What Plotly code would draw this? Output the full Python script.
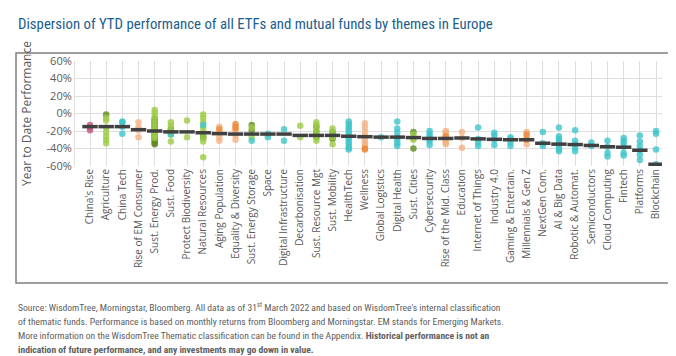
import plotly.graph_objects as go

categories = ["China's Rise", "Agriculture", "China Tech", "Rise of EM Consumer", "Sust. Energy Prod.",
              "Sust. Food", "Protect Biodiversity", "Natural Resources", "Aging Population",
              "Equality & Diversity", "Sust. Energy Storage", "Space", "Digital Infrastructure",
              "Decarbonisation", "Sust. Resource Mgt", "Sust. Mobility", "HealthTech", "Wellness",
              "Global Logistics", "Digital Health", "Sust. Cities", "Cybersecurity",
              "Rise of the Mid. Class", "Education", "Internet of Things", "Industry 4.0",
              "Gaming & Entertain.", "Millennials & Gen Z", "NextGen Com.", "AI & Big Data",
              "Robotic & Automat.", "Semiconductors", "Cloud Computing", "Fintech", "Platforms",
              "Blockchain"]

median_values = [-15, -15, -15, -18.5, -20, -21, -21, -22, -23, -23.5, -23.5, -23.5, -23.5,
                 -25, -25, -25, -26, -26.5, -27, -27, -27.5, -28.5, -28.5, -28, -29, -29.5,
                 -30, -30, -34, -35, -35.5, -36.5, -38, -38.5, -42, -58]

pink_funds = {"China's Rise": [-13, -16, -19]}

dark_green_funds = {
    "Agriculture": [-1],
    "Sust. Energy Prod.": [-6, -8, -10, -12, -14, -16, -18, -20, -22, -24, -26, -28, -30, -32, -34, -35],
    "Sust. Food": [-18],
    "Natural Resources": [-25, -28],
    "Sust. Energy Storage": [-13, -19],
    "Sust. Resource Mgt": [-15, -21, -27],
    "Sust. Mobility": [-21, -25, -29],
    "Sust. Cities": [-21, -40],
}

light_green_funds = {
    "Agriculture": [-5, -8, -16, -21, -26, -30, -34],
    "Sust. Energy Prod.": [4, 1, -3, -7, -11, -15, -19, -22, -25, -28],
    "Sust. Food": [-10, -14, -19, -24, -32],
    "Protect Biodiversity": [-8, -27],
    "Natural Resources": [-1, -5, -10, -16, -21, -27, -32, -50],
    "Sust. Energy Storage": [-16, -27],
    "Decarbonisation": [-14, -27],
    "Sust. Resource Mgt": [-10, -13, -19, -25, -31],
    "Sust. Mobility": [-17, -23, -27, -35],
    "Sust. Cities": [-24, -28, -30],
}

teal_funds = {
    "China Tech": [-9, -10, -15, -23],
    "Sust. Food": [-24],
    "Natural Resources": [-13],
    "Sust. Energy Storage": [-31],
    "Space": [-23, -27],
    "Digital Infrastructure": [-18, -31],
    "HealthTech": [-9, -12, -15, -18, -21, -24, -27, -30, -33, -36, -39, -41],
    "Global Logistics": [-27],
    "Digital Health": [-9, -17, -22, -27, -30, -34, -37],
    "Cybersecurity": [-20, -23, -26, -29, -32, -36],
    "Internet of Things": [-16, -29, -33, -37],
    "Industry 4.0": [-22, -25, -30, -36],
    "Gaming & Entertain.": [-27, -29, -33, -37],
    "NextGen Com.": [-21, -34, -37],
    "AI & Big Data": [-16, -26, -29, -32, -35, -38, -41, -43],
    "Robotic & Automat.": [-19, -31, -35, -39, -43],
    "Semiconductors": [-33, -37],
    "Cloud Computing": [-31, -38, -45, -49],
    "Fintech": [-28, -31, -34, -38, -45, -48],
    "Platforms": [-25, -32, -37, -42, -47, -53],
    "Blockchain": [-20, -23, -41, -58],
}

light_orange_funds = {
    "Rise of EM Consumer": [-10, -16, -19, -27],
    "Aging Population": [-15, -21, -27, -31],
    "Equality & Diversity": [-20, -25, -30],
    "Wellness": [-11, -16, -21, -26, -30, -34, -37],
    "Rise of the Mid. Class": [-20, -22, -25, -28, -31, -33, -35],
    "Education": [-21, -28, -39],
    "Millennials & Gen Z": [-21, -27, -35],
}

orange_funds = {
    "Aging Population": [-18],
    "Equality & Diversity": [-12, -15, -17],
    "Wellness": [-40, -41],
    "Rise of the Mid. Class": [-26],
    "Millennials & Gen Z": [-24, -30],
}

y_tick_values = [-60, -40, -20, 0, 20, 40, 60]
y_tick_labels = ["-60%", "-40%", "-20%", "0%", "20%", "40%", "60%"]

title_text = "Dispersion of YTD performance of all ETFs and mutual funds by themes in Europe"
y_title = "Year to Date Performance"
footer_lines = [
    "Source: WisdomTree, Morningstar, Bloomberg. All data as of 31<sup>st</sup> March 2022 and based on WisdomTree's internal classification",
    "of thematic funds. Performance is based on monthly returns from Bloomberg and Morningstar. EM stands for Emerging Markets.",
    "More information on the WisdomTree Thematic classification can be found in the Appendix. <b>Historical performance is not an</b>",
    "<b>indication of future performance, and any investments may go down in value.</b>",
]

# ---- layout geometry (pixels) ----
W, H = 676, 356
L, R, T, B = 67, 22, 53, 198
pw, ph = W - L - R, H - T - B


def px_x(px):
    return (px - L) / pw


def px_y(py):
    return (H - B - py) / ph


narrow = "Liberation Sans Narrow, Roboto Condensed, Arial Narrow, DejaVu Sans Condensed, Roboto, sans-serif"
base = "Open Sans, Noto Sans, sans-serif"

fig = go.Figure()

series = [
    (pink_funds, "#c0587a"),
    (dark_green_funds, "#5f8a1f"),
    (light_green_funds, "#9ccc46"),
    (teal_funds, "#3ec4cb"),
    (light_orange_funds, "#f4b183"),
    (orange_funds, "#ec8a3a"),
]

for data, colour in series:
    xs, ys = [], []
    for cat, vals in data.items():
        for v in vals:
            xs.append(cat)
            ys.append(v)
    fig.add_trace(go.Scatter(x=xs, y=ys, mode="markers",
                             marker=dict(size=6.5, color=colour, opacity=0.8, line=dict(width=0)),
                             showlegend=False, hoverinfo="x+y"))

fig.add_trace(go.Scatter(x=categories, y=median_values, mode="markers",
                         marker=dict(symbol="line-ew-open", size=11, color="#404040",
                                     line=dict(width=3.5, color="#404040")),
                         showlegend=False))

fig.update_xaxes(type="category", categoryorder="array", categoryarray=categories,
                 range=[-(82 - L) / 16.17, 35 + (pw - (648 - L)) / 16.17],
                 showgrid=True, gridcolor="#dedede", gridwidth=1,
                 tickangle=-90, tickfont=dict(family=base, size=10, color="#595959"),
                 ticks="", zeroline=False, showline=False)
fig.update_yaxes(range=[-60, 60], tickvals=y_tick_values, ticktext=y_tick_labels,
                 showgrid=True, gridcolor="#dedede", gridwidth=1,
                 showline=True, linecolor="#dedede", linewidth=1,
                 zeroline=False, tickfont=dict(family=base, size=11, color="#595959"),
                 title=dict(text=y_title, font=dict(family=base, size=12, color="#595959"), standoff=12))

annotations = [
    dict(text=title_text, x=px_x(8), y=px_y(16), xref="paper", yref="paper", xanchor="left",
         yanchor="middle", showarrow=False, font=dict(family=narrow, size=14.8, color="#205e8e")),
]
for i, line in enumerate(footer_lines):
    annotations.append(dict(text=line, x=px_x(8), y=px_y(299 + 14.3 * i), xref="paper", yref="paper",
                            xanchor="left", yanchor="middle", align="left", showarrow=False,
                            font=dict(family=narrow, size=9.6, color="#606060")))

shapes = [
    dict(type="rect", xref="paper", yref="paper", x0=px_x(8), x1=px_x(663), y0=px_y(45), y1=px_y(275),
         line=dict(color="#808080", width=1.5), fillcolor="rgba(0,0,0,0)", layer="below"),
]

fig.update_layout(width=W, height=H, margin=dict(l=L, r=R, t=T, b=B),
                  paper_bgcolor="white", plot_bgcolor="white",
                  annotations=annotations, shapes=shapes, showlegend=False)

fig.write_html("out.html")
